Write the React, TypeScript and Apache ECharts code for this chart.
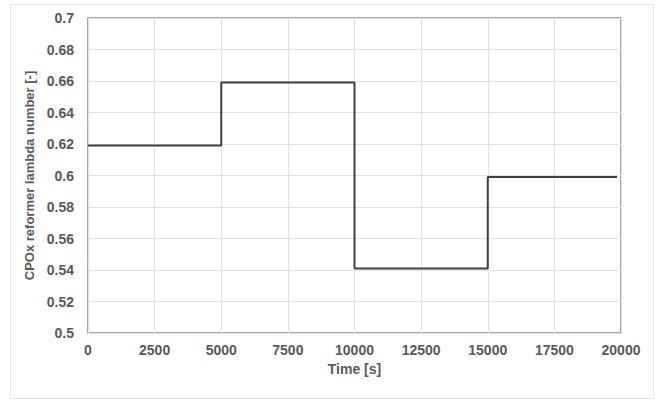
import React, { useEffect, useRef } from "react";
import * as echarts from "echarts";

const times = [0, 5000, 10000, 15000, 19850];
const lambdaValues = [0.619, 0.659, 0.541, 0.599, 0.599];
const xTicks = { min: 0, max: 20000, interval: 2500 };
const yTicks = { min: 0.5, max: 0.7, interval: 0.02 };

export default function App() {
  const ref = useRef<HTMLDivElement>(null);
  useEffect(() => {
    if (!ref.current) return;
    const chart = echarts.init(ref.current, undefined, { renderer: "svg" });
    const labelStyle = {
      color: "#595959",
      fontFamily: "Liberation Sans, Arial, sans-serif",
      fontWeight: "bold" as const,
      fontSize: 14,
    };
    chart.setOption({
      animation: false,
      backgroundColor: "#ffffff",
      graphic: [
        {
          type: "rect",
          shape: { x: 10.5, y: 4.5, width: 643, height: 394 },
          style: { fill: "none", stroke: "#e3e3e3", lineWidth: 1 },
          silent: true,
        },
      ],
      grid: {
        left: 88,
        right: 40,
        top: 18,
        bottom: 67,
        show: true,
        borderColor: "#8c8c8c",
        borderWidth: 1.5,
        backgroundColor: "transparent",
      },
      xAxis: {
        type: "value",
        min: xTicks.min,
        max: xTicks.max,
        interval: xTicks.interval,
        name: "Time [s]",
        nameLocation: "middle",
        nameGap: 28,
        nameTextStyle: { ...labelStyle },
        axisLine: { show: false },
        axisTick: { show: false },
        axisLabel: { ...labelStyle, margin: 10, formatter: (v: number) => String(v) },
        splitLine: { show: true, lineStyle: { color: "#e2e2e2", width: 1 } },
      },
      yAxis: {
        type: "value",
        min: yTicks.min,
        max: yTicks.max,
        interval: yTicks.interval,
        name: "CPOx reformer lambda number [-]",
        nameLocation: "middle",
        nameGap: 40,
        nameTextStyle: { ...labelStyle, fontSize: 13 },
        axisLine: { show: false },
        axisTick: { show: false },
        axisLabel: {
          ...labelStyle,
          margin: 14,
          formatter: (v: number) => String(Math.round(v * 100) / 100),
        },
        splitLine: { show: true, lineStyle: { color: "#e2e2e2", width: 1 } },
      },
      series: [
        {
          type: "line",
          step: "end",
          data: times.map((t, i) => [t, lambdaValues[i]]),
          showSymbol: false,
          lineStyle: { color: "#404040", width: 2 },
        },
      ],
    });
    return () => chart.dispose();
  }, []);
  return (
    <div
      ref={ref}
      style={{ position: "fixed", left: 0, top: 0, width: 661, height: 400 }}
    />
  );
}
